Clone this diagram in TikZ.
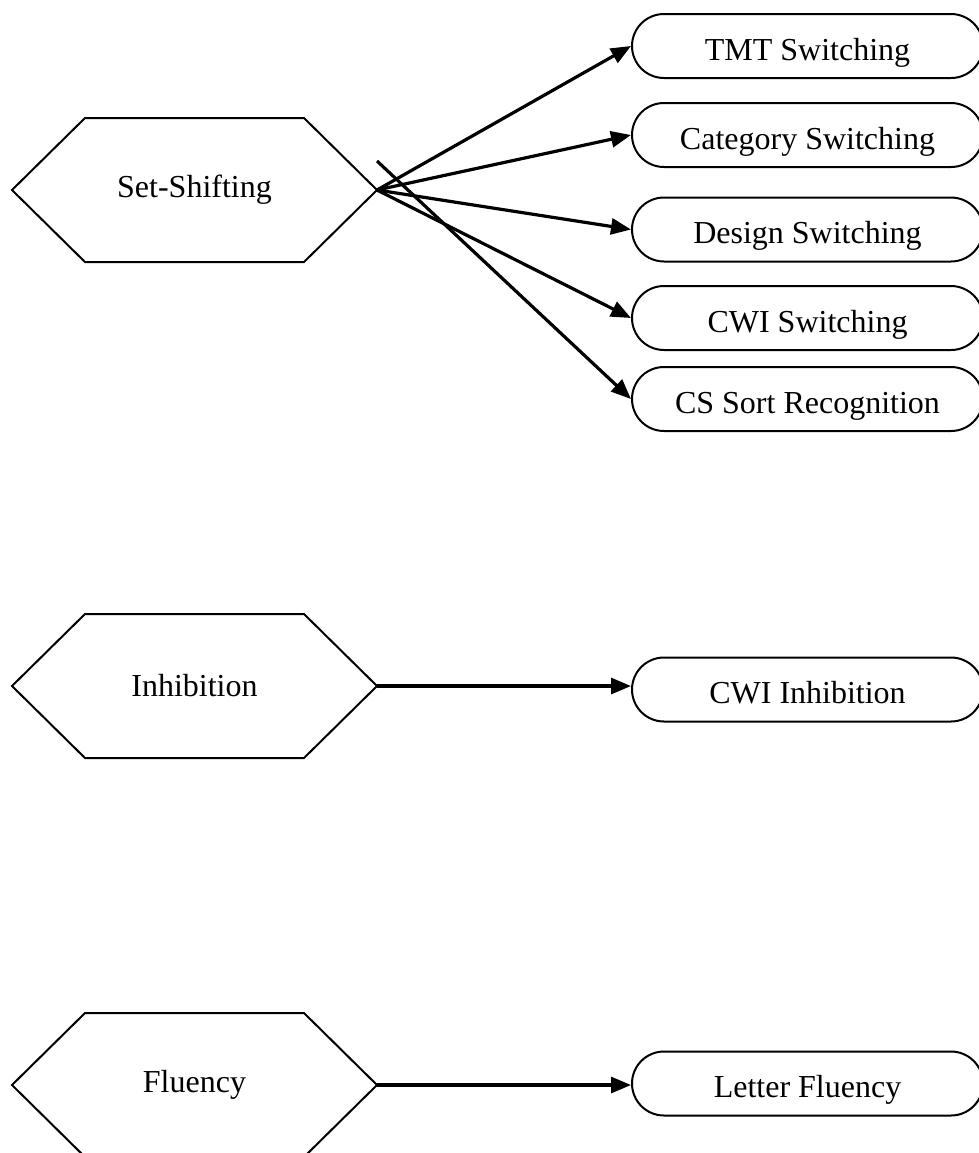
\documentclass[tikz,border=0pt]{standalone}
\usepackage{fontspec}
\setmainfont{Liberation Serif}
\usetikzlibrary{arrows.meta,shapes.misc}

\tikzset{
  rotulo/.style={font=\fontsize{16}{19}\selectfont},
  tarefa/.style={rounded rectangle, draw, line width=1pt, minimum width=175.5pt,
    minimum height=32pt, inner sep=0pt, text height=14pt, text depth=0pt,
    font=\fontsize{16}{19}\selectfont},
  seta/.style={line width=1.6pt, -{Triangle[length=10pt,width=8pt]}},
}
\newcommand{\hexagono}[1]{\draw[line width=1pt] (#1.center) ++(-182.5,0) -- ++(73,-72)
  -- ++(219,0) -- ++(73,72) -- ++(-73,72) -- ++(-219,0) -- cycle;}

\begin{document}
\begin{tikzpicture}[x=0.5pt, y=-0.5pt]
\clip (0,0) rectangle (979,1153);

%set-shifting
\node[rotulo] (shift) at (194.5,190) {Set-Shifting};
\hexagono{shift}
\coordinate (shift-r) at (377,190);
\coordinate (shift-c) at (377,161);

\node[tarefa] (tmt) at (807.5,46) {TMT Switching};
\node[tarefa] (cat) at (807.5,135) {Category Switching};
\node[tarefa] (des) at (807.5,229.5) {Design Switching};
\node[tarefa] (cwis) at (807.5,318) {CWI Switching};
\node[tarefa] (cs) at (807.5,399) {CS Sort Recognition};

\draw[seta] (shift-r) -- (tmt.west);
\draw[seta] (shift-r) -- (cat.west);
\draw[seta] (shift-r) -- (des.west);
\draw[seta] (shift-r) -- (cwis.west);
\draw[seta] (shift-c) -- (cs.west);

%inibicao
\node[rotulo] (inib) at (194.5,686) {Inhibition};
\hexagono{inib}
\coordinate (inib-r) at (377,686);
\node[tarefa] (cwii) at (807.5,689.5) {CWI Inhibition};
\draw[seta] (inib-r) -- (inib-r -| cwii.west);

%fluencia
\node[rotulo] (flu) at (194.5,1085) {Fluency};
\hexagono{flu}
\coordinate (flu-r) at (377,1085);
\node[tarefa] (let) at (807.5,1083.5) {Letter Fluency};
\draw[seta] (flu-r) -- (flu-r -| let.west);

\end{tikzpicture}
\end{document}
